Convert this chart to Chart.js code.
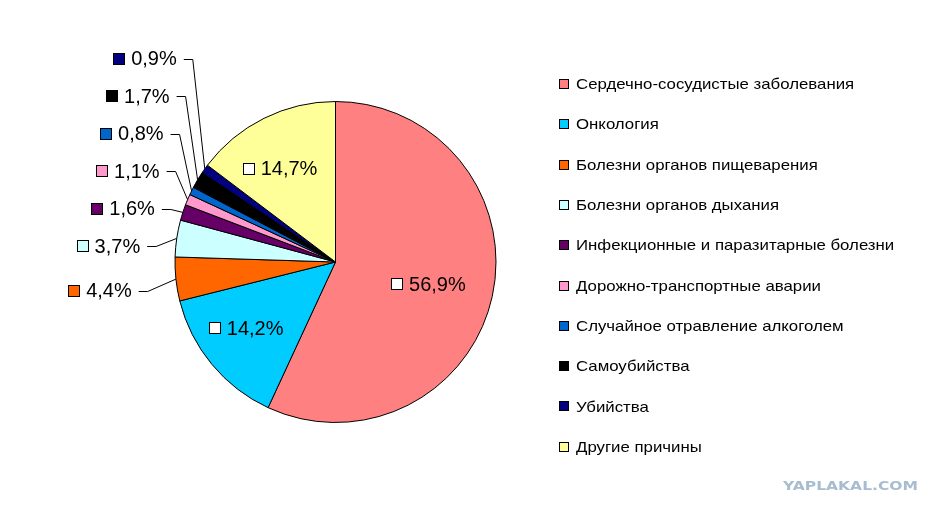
<!DOCTYPE html>
<html>
<head>
<meta charset="utf-8">
<script src="https://cdn.jsdelivr.net/npm/chart.js@4.4.1/dist/chart.umd.min.js"></script>
<style>
  html, body { margin: 0; padding: 0; background: #fff; }
  #wrap { width: 946px; height: 516px; position: relative; }
</style>
</head>
<body>
<div id="wrap"><canvas id="pie"></canvas></div>
<script>
// Data
const categories = [
    'Сердечно-сосудистые заболевания',
    'Онкология',
    'Болезни органов пищеварения',
    'Болезни органов дыхания',
    'Инфекционные и паразитарные болезни',
    'Дорожно-транспортные аварии',
    'Случайное отравление алкоголем',
    'Самоубийства',
    'Убийства',
    'Другие причины'
];
const shares = [56.9, 14.2, 4.4, 3.7, 1.6, 1.1, 0.8, 1.7, 0.9, 14.7];
const sliceColors = ['#FF8080', '#00CCFF', '#FF6600', '#CCFFFF', '#660066',
                     '#FF99CC', '#0066CC', '#000000', '#000080', '#FFFF99'];
// slices labelled inside the pie, the rest get a leader line
const insideLabels = [0, 1, 9];

const fmt = v => v.toFixed(1).replace('.', ',') + '%';

// labels + legend drawn by hand, Excel style
const excelLabels = {
    id: 'excelLabels',
    afterDraw(chart) {
        const ctx = chart.ctx;
        const arcs = chart.getDatasetMeta(0).data;
        ctx.save();
        ctx.font = '20px "Liberation Sans", Arial, sans-serif';
        ctx.textBaseline = 'middle';
        ctx.lineWidth = 1;

        // inside labels: text centred at 0.65 r, key box to its left
        insideLabels.forEach(i => {
            const a = arcs[i];
            const mid = (a.startAngle + a.endAngle) / 2;
            const r = a.outerRadius * 0.65;
            const x = a.x + Math.cos(mid) * r;
            const y = a.y + Math.sin(mid) * r;
            const txt = fmt(shares[i]);
            const tw = ctx.measureText(txt).width;
            const tx = x - tw / 2;
            const by = Math.round(y) - 5.5;
            ctx.fillStyle = '#fff';
            ctx.strokeStyle = '#000';
            ctx.fillRect(Math.round(tx) - 17.5, by, 11, 11);
            ctx.strokeRect(Math.round(tx) - 17.5, by, 11, 11);
            ctx.fillStyle = '#000';
            ctx.textAlign = 'left';
            ctx.fillText(txt, tx, y + 1);
        });

        // outside labels, stacked upward from the lowest one
        let prevY = Infinity;
        for (let i = 0; i < shares.length; i++) {
            if (insideLabels.includes(i)) continue;
            const a = arcs[i];
            const mid = (a.startAngle + a.endAngle) / 2;
            const s = Math.sin(mid);
            const ex = a.x + Math.cos(mid) * a.outerRadius;
            const ey = a.y + s * a.outerRadius;
            let ly = ey + 10 + 15 * s;
            let pushed = false;
            if (ly > prevY - 37.5) { ly = prevY - 37.5; pushed = true; }
            prevY = ly;
            const endX = ex - (pushed ? 12 : 25 + 30 * s);
            const startX = endX - 9;
            const yy = Math.round(ly) + 0.5;
            ctx.strokeStyle = '#000';
            ctx.beginPath();
            ctx.moveTo(startX, yy);
            ctx.lineTo(endX, yy);
            ctx.lineTo(ex, ey);
            ctx.stroke();

            const txt = fmt(shares[i]);
            const tw = ctx.measureText(txt).width;
            const tx = startX - 7 - tw;
            ctx.fillStyle = '#000';
            ctx.textAlign = 'left';
            ctx.fillText(txt, tx, ly + 1);
            ctx.fillStyle = sliceColors[i];
            ctx.fillRect(Math.round(tx) - 17.5, Math.round(ly) - 5.5, 11, 11);
            ctx.strokeRect(Math.round(tx) - 17.5, Math.round(ly) - 5.5, 11, 11);
        }

        // legend
        ctx.font = '15px "Liberation Sans", Arial, sans-serif';
        const stretch = 1.12;
        categories.forEach((name, i) => {
            const y = 84 + i * 40.3;
            ctx.fillStyle = sliceColors[i];
            ctx.fillRect(559.5, Math.round(y) - 4.5, 9, 9);
            ctx.strokeStyle = '#000';
            ctx.strokeRect(559.5, Math.round(y) - 4.5, 9, 9);
            ctx.fillStyle = '#000';
            ctx.save();
            ctx.translate(576, y + 1);
            ctx.scale(stretch, 1);
            ctx.fillText(name, 0, 0);
            ctx.restore();
        });

        // watermark
        ctx.font = 'bold 13px "DejaVu Sans", sans-serif';
        ctx.fillStyle = '#A8BCD0';
        const wm = 'YAPLAKAL.COM';
        const ww = ctx.measureText(wm).width;
        ctx.translate(783, 487);
        ctx.scale(135 / ww, 1);
        ctx.fillText(wm, 0, 0);
        ctx.restore();
    }
};

new Chart(document.getElementById('pie'), {
    type: 'pie',
    data: {
        labels: categories,
        datasets: [{
            data: shares,
            backgroundColor: sliceColors,
            borderColor: '#000',
            borderWidth: 1
        }]
    },
    options: {
        responsive: true,
        maintainAspectRatio: false,
        animation: false,
        layout: { padding: { left: 174, right: 449, top: 101, bottom: 93 } },
        plugins: {
            legend: { display: false },
            tooltip: { enabled: false }
        }
    },
    plugins: [excelLabels]
});
</script>
</body>
</html>
